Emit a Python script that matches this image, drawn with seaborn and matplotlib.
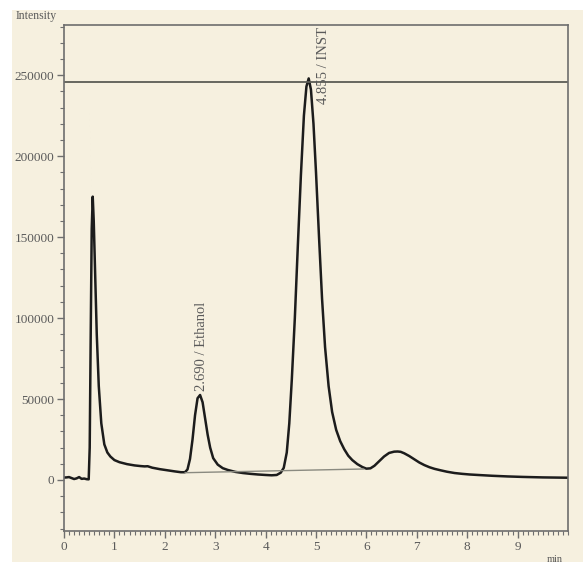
import matplotlib
matplotlib.use("Agg")
import matplotlib.pyplot as plt
import seaborn as sns
import pandas as pd
from matplotlib.patches import Rectangle
from matplotlib.ticker import MultipleLocator

# ---- data ----
time_min = [0.00, 0.05, 0.10, 0.15, 0.20, 0.25, 0.30, 0.35, 0.40, 0.45, 0.49,
            0.51, 0.53, 0.55, 0.57, 0.59, 0.62, 0.65, 0.69, 0.74, 0.80,
            0.86, 0.92, 1.00, 1.10, 1.25, 1.40, 1.52, 1.60, 1.66, 1.75, 1.90,
            2.05, 2.20, 2.32, 2.40, 2.45, 2.50, 2.55, 2.60, 2.65, 2.70, 2.75,
            2.80, 2.85, 2.90, 2.96, 3.05, 3.15, 3.25, 3.40, 3.55, 3.70, 3.85,
            4.00, 4.12, 4.22, 4.30, 4.36, 4.42, 4.47, 4.52, 4.58, 4.64, 4.70,
            4.76, 4.81, 4.855, 4.90, 4.95, 5.00, 5.06, 5.12, 5.18, 5.25, 5.32,
            5.40, 5.48, 5.56, 5.64, 5.72, 5.82, 5.92, 6.00, 6.08, 6.16, 6.25,
            6.35, 6.45, 6.55, 6.62, 6.68, 6.75, 6.85, 6.95, 7.05, 7.15, 7.25,
            7.35, 7.47, 7.60, 7.75, 7.90, 8.05, 8.27, 8.50, 8.80, 9.10, 9.50,
            10.00]
intensity = [1500, 1600, 1800, 1200, 600, 1000, 1800, 700, 900, 500, 400,
             20000, 90000, 155000, 175000, 160000, 125000, 90000, 58000, 35000, 22000,
             17000, 14500, 12300, 11000, 9800, 9000, 8600, 8400, 8500, 7600, 6700,
             6000, 5300, 4800, 4800, 6500, 13000, 25000, 40000, 50500, 52500, 48000,
             38000, 28000, 20000, 13500, 9500, 7300, 6200, 5000, 4300, 3800, 3400,
             3100, 2900, 3100, 4500, 7500, 17000, 35000, 62000, 100000, 145000, 188000,
             225000, 243000, 248000, 241000, 220000, 190000, 150000, 112000, 82000, 58000, 42000,
             31000, 24000, 19000, 15000, 12300, 9800, 8000, 7000, 7200, 8800, 11500,
             14500, 16700, 17500, 17600, 17400, 16500, 14800, 12800, 10800, 9200, 7900,
             6900, 6000, 5100, 4300, 3800, 3400, 3000, 2600, 2200, 1900, 1600,
             1400]

baseline_time = [2.40, 5.95]
baseline_intensity = [4500, 6800]

reference_level = 246000

peak_labels = ["2.690 / Ethanol", "4.855 / INST"]
peak_label_x = [2.72, 5.15]
peak_label_y = [55000, 232000]

x_tick_labels = ["0", "1", "2", "3", "4", "5", "6", "7", "8", "9"]
y_tick_values = [0, 50000, 100000, 150000, 200000, 250000]

# ---- styling ----
sns.set_style("ticks")
plt.rcParams["font.family"] = ["Liberation Serif", "DejaVu Serif"]

cream = "#F6F0DF"
text_col = "#5a5a5a"
axis_col = "#6e6e6e"

fig = plt.figure(figsize=(5.83, 5.64), dpi=100, facecolor="white")
fig.patches.append(Rectangle((12 / 583, 2 / 564), 571 / 583, 552 / 564,
                             transform=fig.transFigure, facecolor=cream,
                             edgecolor="none", zorder=-10))
ax = fig.add_axes([64 / 583, 1 - 531 / 564, (568 - 64) / 583, (531 - 25) / 564])
ax.set_facecolor(cream)

df = pd.DataFrame({"time": time_min, "intensity": intensity})
sns.lineplot(data=df, x="time", y="intensity", ax=ax, color="#1c1c1c",
             linewidth=1.8, sort=False, estimator=None)
bdf = pd.DataFrame({"time": baseline_time, "intensity": baseline_intensity})
sns.lineplot(data=bdf, x="time", y="intensity", ax=ax, color="#8a8a80",
             linewidth=1.0, sort=False, estimator=None)
ax.axhline(reference_level, color="#5c5c55", linewidth=1.3)

for lab, lx, ly in zip(peak_labels, peak_label_x, peak_label_y):
    ax.text(lx, ly, lab, rotation=90, ha="center", va="bottom",
            fontsize=10.5, color=text_col)

ax.set_xlim(0, 10)
ax.set_ylim(-31500, 281000)
ax.set_xticks(range(len(x_tick_labels)))
ax.set_xticklabels(x_tick_labels)
ax.set_yticks(y_tick_values)
ax.set_yticklabels([str(v) for v in y_tick_values])
ax.xaxis.set_minor_locator(MultipleLocator(0.1))
ax.yaxis.set_minor_locator(MultipleLocator(10000))
ax.tick_params(axis="both", which="major", length=5, width=1, color=axis_col,
               labelcolor=text_col, labelsize=9.5, pad=2)
ax.tick_params(axis="both", which="minor", length=3, width=0.8, color=axis_col)
for s in ax.spines.values():
    s.set_color(axis_col)
    s.set_linewidth(1.2)
ax.set_xlabel("")
ax.set_ylabel("")

fig.text(16 / 583, 1 - 16 / 564, "Intensity", fontsize=8.5, color=text_col,
         ha="left", va="center")
fig.text(555 / 583, 1 - 559 / 564, "min", fontsize=7.5, color=text_col,
         ha="center", va="center")

fig.savefig("out.png", dpi=100, facecolor="white")
